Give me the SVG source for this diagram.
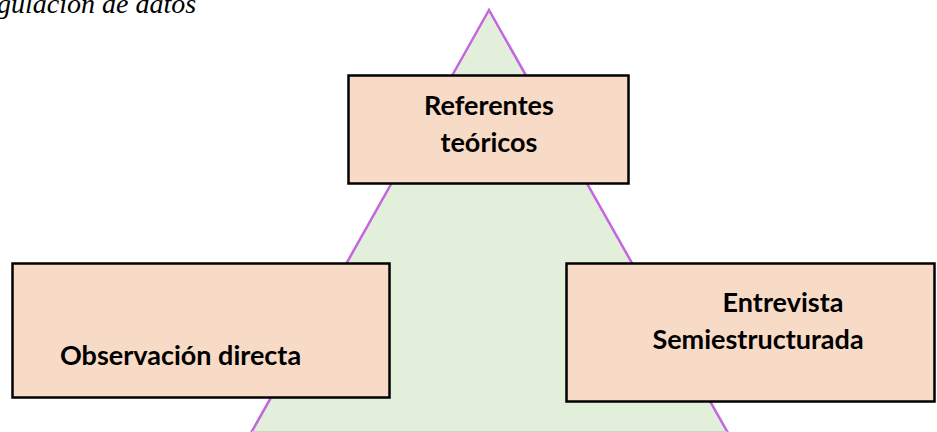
<svg xmlns="http://www.w3.org/2000/svg" width="937" height="432" viewBox="0 0 937 432">
<style>
.box{fill:#F8DBC6;stroke:#000;stroke-width:2.5}
.lbl{font-family:Lato,"Open Sans","Liberation Sans",sans-serif;font-weight:bold;font-size:27px;fill:#000}
.cap{font-family:"Liberation Serif",serif;font-style:italic;font-size:28px;fill:#000}
</style>
<rect width="937" height="432" fill="#fff"/>
<text class="cap" x="-3" y="13">gulación de datos</text>
<g id="triangle">
<polygon points="489,10 251,433 728,433" fill="#E2EFDA" stroke="#C466E0" stroke-width="2.5"/>
<line x1="252" y1="431.5" x2="727" y2="431.5" stroke="#D0D0D0" stroke-width="1"/>
</g>
<g id="connectors"></g>
<g id="referentes">
<rect class="box" x="348.5" y="75.5" width="280" height="108"/>
<text class="lbl" x="489" y="115" text-anchor="middle">Referentes</text>
<text class="lbl" x="489" y="152" text-anchor="middle">teóricos</text>
</g>
<g id="observacion">
<rect class="box" x="12.5" y="263.5" width="377" height="134"/>
<text class="lbl" x="60" y="365">Observación directa</text>
</g>
<g id="entrevista">
<rect class="box" x="566.5" y="263.5" width="368" height="138"/>
<text class="lbl" x="783" y="312" text-anchor="middle">Entrevista</text>
<text class="lbl" x="758" y="349" text-anchor="middle">Semiestructurada</text>
</g>
</svg>
